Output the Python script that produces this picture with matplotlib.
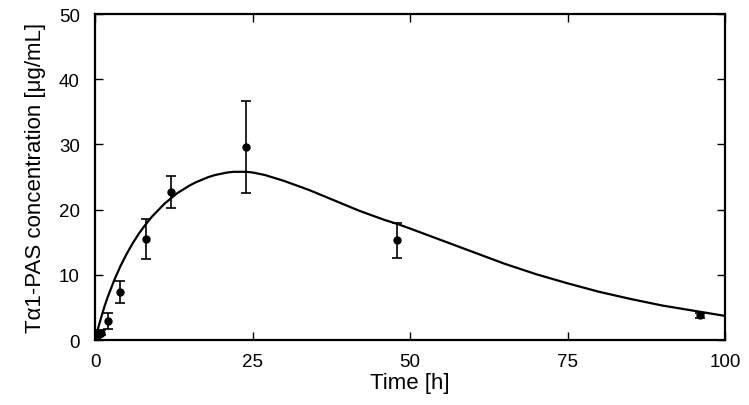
import numpy as np
import matplotlib.pyplot as plt

plt.rcParams['font.family'] = ['Liberation Sans', 'DejaVu Sans']

# measured concentrations (mean +/- error)
time_pts = [0.5, 1, 2, 4, 8, 12, 24, 48, 96]
conc = [0.7, 1.1, 2.9, 7.4, 15.5, 22.7, 29.6, 15.3, 3.8]
conc_err = [0.3, 0.4, 1.2, 1.7, 3.1, 2.5, 7.1, 2.7, 0.4]

# fitted curve
fit_t = [0, 0.5, 1, 1.5, 2, 3, 4, 5, 6, 7, 8, 9, 10, 11, 12, 13, 14, 15, 16,
         17, 18, 19, 20, 21, 22, 23, 24, 25, 26, 27, 28, 30, 32, 34, 36, 38,
         40, 42, 44, 46, 48, 50, 55, 60, 65, 70, 75, 80, 85, 90, 95, 100]
fit_c = [0, 1.9, 3.6, 5.2, 6.6, 9.1, 11.3, 13.2, 14.9, 16.4, 17.7, 18.9,
         19.9, 20.9, 21.7, 22.5, 23.1, 23.7, 24.2, 24.6, 25.0, 25.3, 25.5,
         25.7, 25.8, 25.8, 25.8, 25.7, 25.5, 25.3, 25.0, 24.4, 23.7, 23.0,
         22.2, 21.4, 20.6, 19.8, 19.1, 18.4, 17.8, 17.1, 15.3, 13.5, 11.7,
         10.1, 8.7, 7.4, 6.3, 5.3, 4.5, 3.7]

fig = plt.figure(figsize=(7.49, 4.06), dpi=100)
ax = fig.add_axes([0.127, 0.160, 0.841, 0.803])

ax.plot(fit_t, fit_c, color='black', lw=1.6)
ax.errorbar(time_pts, conc, yerr=conc_err, fmt='o', color='black',
            markersize=5, capsize=3.5, elinewidth=1.2, capthick=1.2)

ax.set_xlim(0, 100)
ax.set_ylim(0, 50)
ax.set_xticks([0, 25, 50, 75, 100])
ax.set_yticks([0, 10, 20, 30, 40, 50])
ax.tick_params(direction='in', length=6, width=1, labelsize=13.5,
               top=True, right=True)
ax.tick_params(axis='y', pad=11)
ax.tick_params(axis='x', pad=9)
for s in ax.spines.values():
    s.set_linewidth(1.6)

ax.set_xlabel('Time [h]', fontsize=16, labelpad=2)
ax.set_ylabel('T\u03b11-PAS concentration [\u03bcg/mL]', fontsize=16, labelpad=9)

fig.savefig('out.png', dpi=100)
